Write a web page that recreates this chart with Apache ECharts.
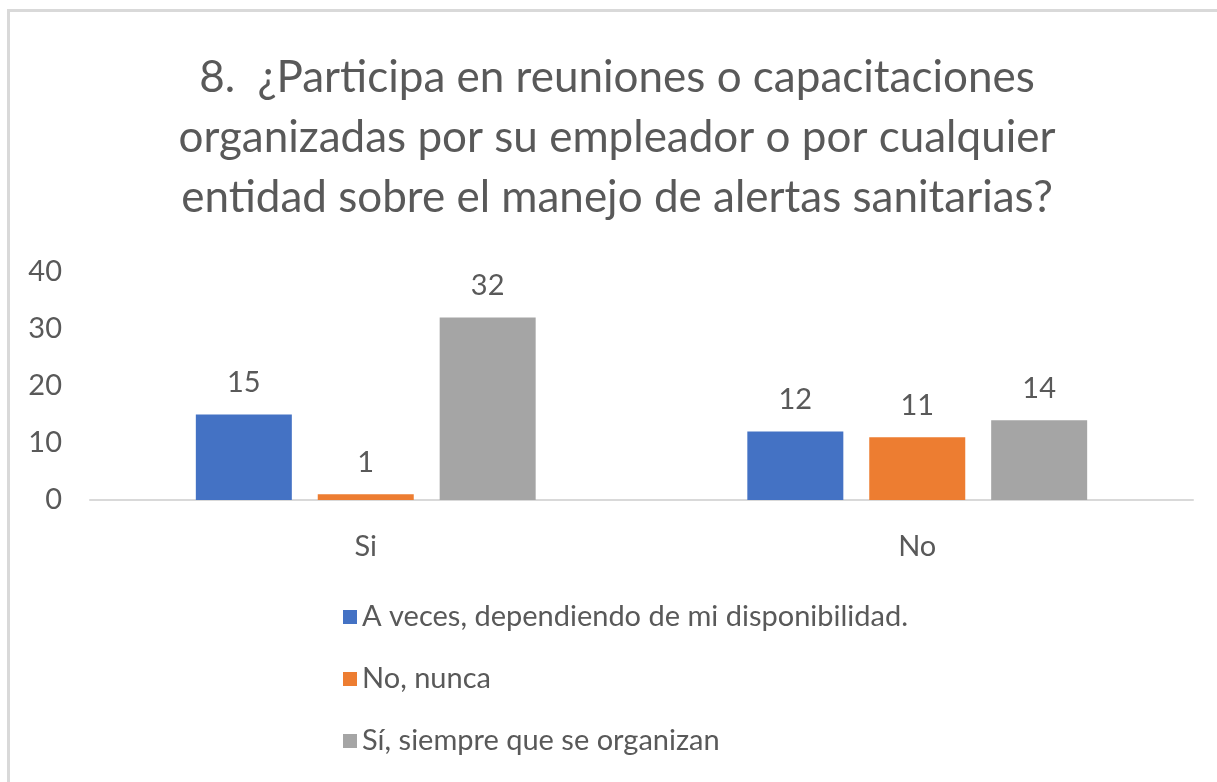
<!DOCTYPE html>
<html>
<head>
<meta charset="utf-8">
<script src="https://cdn.jsdelivr.net/npm/echarts@6/dist/echarts.min.js"></script>
<style>
  html, body { margin: 0; padding: 0; background: #fff; }
  #chart { width: 1217px; height: 782px; }
</style>
</head>
<body>
<div id="chart"></div>
<script>
const categories = ['Si', 'No'];
const seriesNames = [
  'A veces, dependiendo de mi disponibilidad.',
  'No, nunca',
  'Sí, siempre que se organizan'
];
const aVeces = [15, 12];
const noNunca = [1, 11];
const siSiempre = [32, 14];
const yTicks = [0, 10, 20, 30, 40];

const colors = ['#4472C4', '#ED7D31', '#A5A5A5'];
const textColor = '#595959';
const font = 'Lato';

const chart = echarts.init(document.getElementById('chart'), null, { renderer: 'canvas' });

const makeSeries = (name, data, color) => ({
  name,
  type: 'bar',
  data,
  barWidth: 96,
  barGap: '27%',
  itemStyle: { color },
  label: {
    show: true,
    position: 'top',
    distance: 17,
    color: textColor,
    fontFamily: font,
    fontSize: 29,
  },
});

chart.setOption({
  animation: false,
  graphic: [{
    type: 'rect',
    shape: { x: 8.5, y: 10.5, width: 1400, height: 900 },
    style: { fill: 'none', stroke: '#d9d9d9', lineWidth: 3 },
    silent: true,
  }],
  title: {
    text: '8.  ¿Participa en reuniones o capacitaciones\norganizadas por su empleador o por cualquier\nentidad sobre el manejo de alertas sanitarias?',
    left: 617,
    top: 48,
    padding: 0,
    textAlign: 'center',
    textStyle: {
      color: textColor,
      fontFamily: font,
      fontWeight: 'normal',
      fontSize: 44,
      lineHeight: 60,
    },
  },
  legend: {
    orient: 'vertical',
    left: 343,
    top: 602,
    padding: 0,
    itemWidth: 14,
    itemHeight: 14,
    itemGap: 32,
    icon: 'rect',
    textStyle: { color: textColor, fontFamily: font, fontSize: 29, lineHeight: 30 },
    data: seriesNames,
  },
  grid: { left: 90, right: 24, top: 272, bottom: 282 },
  xAxis: {
    type: 'category',
    data: categories,
    axisLine: { lineStyle: { color: '#d9d9d9', width: 2 } },
    axisTick: { show: false },
    axisLabel: { color: textColor, fontFamily: font, fontSize: 29, margin: 32 },
  },
  yAxis: {
    type: 'value',
    min: yTicks[0],
    max: yTicks[yTicks.length - 1],
    interval: 10,
    axisLine: { show: false },
    axisTick: { show: false },
    splitLine: { show: false },
    axisLabel: { color: textColor, fontFamily: font, fontSize: 29, margin: 28 },
  },
  series: [
    makeSeries(seriesNames[0], aVeces, colors[0]),
    makeSeries(seriesNames[1], noNunca, colors[1]),
    makeSeries(seriesNames[2], siSiempre, colors[2]),
  ],
});
</script>
</body>
</html>
